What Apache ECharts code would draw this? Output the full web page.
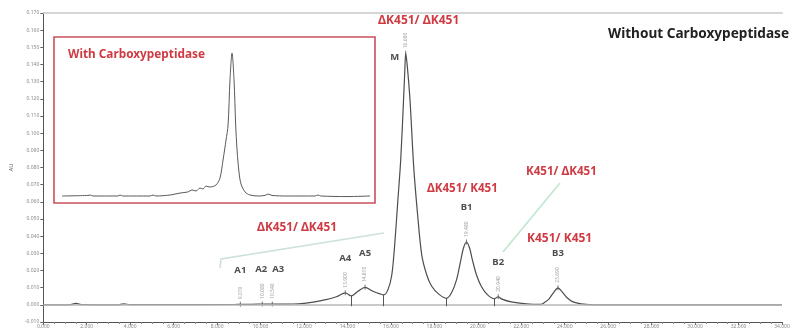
<!DOCTYPE html>
<html>
<head>
<meta charset="utf-8">
<style>
  html, body { margin: 0; padding: 0; background: #fff; }
  #chart { width: 795px; height: 331px; }
</style>
<script src="https://cdn.jsdelivr.net/npm/echarts@6/dist/echarts.min.js"></script>
</head>
<body>
<div id="chart"></div>
<script>
// 主图：不加羧肽酶 (min, AU)
const mainTime = [0, 1.2, 1.5, 1.8, 3.4, 3.7, 4.0, 8.8, 9.07, 9.3, 9.9, 10.08, 10.3, 10.54, 10.8, 11.5, 12.0, 12.5, 13.0, 13.5,
  13.9, 14.18, 14.5, 14.81, 15.15, 15.5, 15.67, 15.86, 16.04, 16.18, 16.32, 16.45, 16.58, 16.64, 16.68, 16.75, 16.88, 17.05,
  17.23, 17.42, 17.65, 17.87, 18.19, 18.56, 18.79, 19.02, 19.2, 19.34, 19.48, 19.62, 19.75, 19.94, 20.17, 20.45, 20.76,
  20.94, 21.08, 21.54, 22.23, 22.9, 23.05, 23.28, 23.51, 23.69, 23.88, 24.11, 24.38, 24.75, 25.44, 28, 31, 34]
const mainSignal = [0, 0, 0.0008, 0.0001, 0, 0.0006, 0.0001, 0.0002, 0.0003, 0.0003, 0.0004, 0.0005, 0.0004, 0.0005, 0.0004,
  0.0005, 0.0009, 0.0017, 0.003, 0.0047, 0.007, 0.0052, 0.0081, 0.0102, 0.0081, 0.0064, 0.0058, 0.0087, 0.0174, 0.036,
  0.061, 0.0843, 0.119, 0.1366, 0.1465, 0.1395, 0.119, 0.0802, 0.0523, 0.029, 0.0174, 0.011, 0.0064, 0.0038, 0.007, 0.0145,
  0.025, 0.0331, 0.0366, 0.0331, 0.0262, 0.0174, 0.0105, 0.0058, 0.0035, 0.0047, 0.0035, 0.0017, 0.0006, 0.0003, 0.0012,
  0.0035, 0.0076, 0.0099, 0.0076, 0.0041, 0.0017, 0.0006, 0, 0, 0, 0]

// 小图：加羧肽酶
const insetTime = [0.37, 3.2, 3.43, 3.75, 6.48, 6.7, 7.0, 9.97, 10.3, 10.6, 12.15, 13.24, 14.1, 14.55, 14.99, 15.42, 15.75,
  16.08, 16.5, 17.17, 17.6, 17.93, 18.26, 18.48, 18.69, 18.91, 19.13, 19.31, 19.46, 19.67, 19.89, 20.33, 20.87, 21.75, 22.5,
  22.84, 23.27, 24.9, 27.96, 28.29, 28.6, 31.45, 33.96]
const insetSignal = [0, 0.0004, 0.0007, 0, 0, 0.0007, 0, 0, 0.0007, 0, 0.0007, 0.0021, 0.0029, 0.0043, 0.0036, 0.0057, 0.005,
  0.0071, 0.0064, 0.0079, 0.0129, 0.0257, 0.04, 0.0507, 0.0829, 0.1021, 0.0829, 0.0507, 0.0329, 0.0171, 0.0086, 0.0029,
  0.0007, 0, 0.0004, 0.0014, 0.0004, 0, 0, 0.0007, 0, -0.0004, 0]

// 峰标注
const peakNames = ['A1', 'A2', 'A3', 'A4', 'A5', 'M', 'B1', 'B2', 'B3']
const peakTimes = [9.07, 10.08, 10.54, 13.9, 14.81, 16.68, 19.48, 20.94, 23.69]
const peakHeights = [0.0003, 0.0005, 0.0005, 0.007, 0.0102, 0.1465, 0.0366, 0.0047, 0.0099]

// 积分分割线（谷点）
const valleyTimes = [14.18, 15.67, 18.56, 20.76]
const valleyHeights = [0.0052, 0.0058, 0.0038, 0.0035]

// 文字
const groupLabels = ['ΔK451/ ΔK451', 'ΔK451/ ΔK451', 'ΔK451/ K451', 'K451/ ΔK451', 'K451/ K451']
const titleWith = 'With Carboxypeptidase'
const titleWithout = 'Without Carboxypeptidase'

const RED = '#cf3b43'
const FONT = '"Noto Sans", "DejaVu Sans", sans-serif'

const zip = (xs, ys) => xs.map((x, i) => [x, ys[i]])

const chart = echarts.init(document.getElementById('chart'))

const peakData = peakNames.map((name, i) => {
  const item = { name, value: [peakTimes[i], peakHeights[i]] }
  if (name === 'M') {
    item.label = { position: 'left', distance: 6, offset: [0, 4] }
  } else if (name === 'A3') {
    item.label = { offset: [6, 0] }
  } else if (name === 'A2') {
    item.label = { offset: [-1, 0] }
  }
  return item
})

const redText = (text, x, y, size) => ({
  type: 'text',
  z: 100,
  style: {
    text,
    x,
    y,
    fill: RED,
    font: `bold ${size}px ${FONT}`,
    verticalAlign: 'middle'
  }
})

const option = {
  animation: false,
  grid: [
    { left: 40, right: 13, top: 13, bottom: 9 },
    {
      left: 54, right: 420, top: 37, bottom: 128,
      show: true, borderColor: '#c9505b', borderWidth: 1.6, backgroundColor: '#fff'
    }
  ],
  xAxis: [
    {
      gridIndex: 0,
      type: 'value',
      min: 0,
      max: 34,
      interval: 2,
      axisLine: { onZero: false, lineStyle: { color: '#555', width: 1 } },
      axisTick: { length: 3, lineStyle: { color: '#666' } },
      minorTick: { show: true, splitNumber: 4, length: 2, lineStyle: { color: '#888' } },
      axisLabel: {
        fontSize: 5, color: '#888', margin: 2, fontFamily: FONT,
        formatter: (v) => v.toFixed(3)
      },
      splitLine: { show: false }
    },
    {
      gridIndex: 0,
      type: 'value',
      position: 'top',
      min: 0,
      max: 34,
      axisLine: { show: true, onZero: false, lineStyle: { color: '#d6d6d6', width: 2 } },
      axisTick: { show: false },
      axisLabel: { show: false },
      splitLine: { show: false }
    },
    { gridIndex: 1, type: 'value', min: -0.5, max: 34.5, show: false }
  ],
  yAxis: [
    {
      gridIndex: 0,
      type: 'value',
      min: -0.01,
      max: 0.17,
      interval: 0.01,
      name: 'AU',
      nameLocation: 'middle',
      nameGap: 26,
      nameTextStyle: { fontSize: 6, color: '#666', fontFamily: FONT },
      axisLine: { show: true, onZero: false, lineStyle: { color: '#555' } },
      axisTick: { show: true, length: 3, lineStyle: { color: '#666' } },
      axisLabel: {
        fontSize: 5, color: '#888', margin: 4, fontFamily: FONT,
        formatter: (v) => v.toFixed(3)
      },
      splitLine: { show: false }
    },
    { gridIndex: 1, type: 'value', min: -0.005, max: 0.1136, show: false }
  ],
  series: [
    {
      name: 'Without Carboxypeptidase',
      type: 'line',
      xAxisIndex: 0,
      yAxisIndex: 0,
      data: zip(mainTime, mainSignal),
      showSymbol: false,
      smooth: 0.3,
      lineStyle: { color: '#4d4d4d', width: 1.2 },
      z: 3,
      markLine: {
        silent: true,
        symbol: 'none',
        label: { show: false },
        data: [
          { yAxis: 0, lineStyle: { color: '#b8b8b8', width: 1.6, type: 'solid' } },
          ...valleyTimes.map((t, i) => [
            { coord: [t, valleyHeights[i]], lineStyle: { color: '#555', width: 1, type: 'solid' } },
            { coord: [t, -0.0008] }
          ])
        ]
      }
    },
    {
      name: 'peaks',
      type: 'scatter',
      xAxisIndex: 0,
      yAxisIndex: 0,
      data: peakData,
      symbol: 'rect',
      symbolSize: [1, 5],
      itemStyle: { color: '#555' },
      silent: true,
      z: 4,
      label: {
        show: true,
        position: 'top',
        distance: 27,
        formatter: (p) => p.name,
        fontSize: 9.5,
        fontWeight: 'bold',
        color: '#222',
        fontFamily: FONT
      }
    },
    {
      name: 'rt',
      type: 'scatter',
      xAxisIndex: 0,
      yAxisIndex: 0,
      data: peakTimes.map((t, i) => [t, peakHeights[i]]),
      symbolSize: 0,
      silent: true,
      z: 4,
      label: {
        show: true,
        position: [0, -5],
        rotate: 90,
        align: 'left',
        verticalAlign: 'middle',
        formatter: (p) => p.value[0].toFixed(3),
        fontSize: 5,
        color: '#888',
        fontFamily: FONT
      }
    },
    {
      name: 'With Carboxypeptidase',
      type: 'line',
      xAxisIndex: 2,
      yAxisIndex: 1,
      data: zip(insetTime, insetSignal),
      showSymbol: false,
      smooth: 0.3,
      lineStyle: { color: '#5a5a5a', width: 1 },
      z: 5
    }
  ],
  graphic: [
    redText(groupLabels[0], 378, 21, 12),
    redText(groupLabels[1], 257, 228, 11.8),
    redText(groupLabels[2], 427, 189, 11.6),
    redText(groupLabels[3], 526, 172, 11.6),
    redText(groupLabels[4], 527, 239, 12),
    redText(titleWith, 68, 55, 11.8),
    {
      type: 'text',
      z: 100,
      style: {
        text: titleWithout,
        x: 608,
        y: 34,
        fill: '#222',
        font: `bold 13.6px ${FONT}`,
        verticalAlign: 'middle'
      }
    },
    {
      type: 'polyline',
      z: 90,
      shape: { points: [[220, 268], [221, 259], [384, 233]] },
      style: { stroke: '#cde2d6', lineWidth: 1.6, fill: null }
    },
    {
      type: 'polyline',
      z: 90,
      shape: { points: [[503, 252], [560, 183]] },
      style: { stroke: '#bfe6cf', lineWidth: 1.6, fill: null }
    }
  ]
}

chart.setOption(option)
</script>
</body>
</html>
